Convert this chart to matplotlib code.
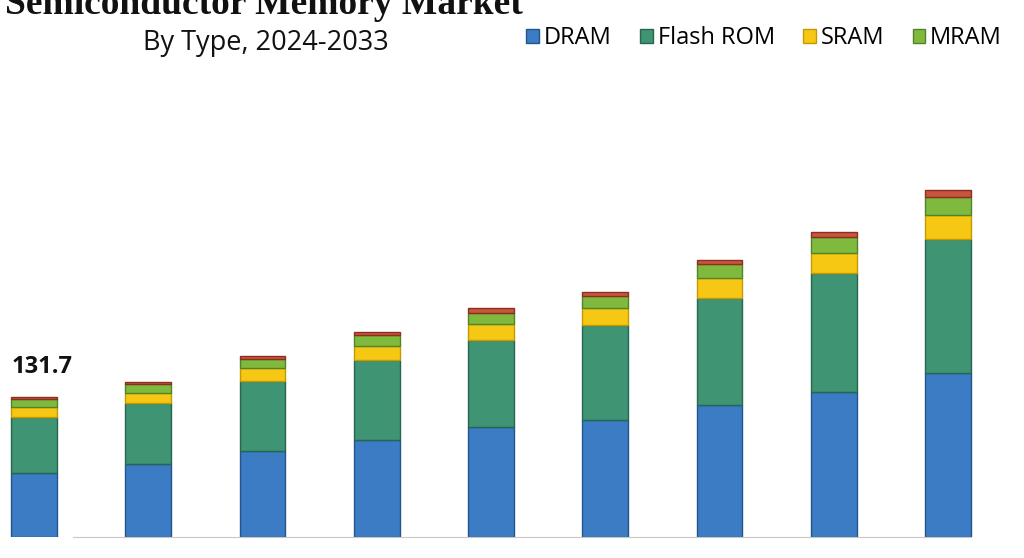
import numpy as np
import matplotlib
matplotlib.use('Agg')
import matplotlib.pyplot as plt
from matplotlib.patches import Patch

# values (USD bn), 2024 onwards
years = ['2024', '2025', '2026', '2027', '2028', '2029', '2030', '2031', '2032']
dram = [60.2, 68.7, 80.9, 91.2, 103.5, 110.1, 124.2, 136.4, 154.3]
flash_rom = [52.7, 57.4, 65.9, 75.3, 81.8, 89.4, 100.7, 111.9, 126.1]
sram = [9.4, 9.4, 12.2, 13.2, 15.1, 16.0, 18.8, 18.8, 22.6]
mram = [7.5, 8.5, 8.5, 10.3, 10.3, 11.3, 13.2, 15.1, 16.9]
others = [1.9, 1.9, 2.8, 2.8, 4.7, 3.8, 3.8, 4.7, 6.6]

series = [('DRAM', dram, '#3b7cc4', '#24548c'),
          ('Flash ROM', flash_rom, '#3e9473', '#276650'),
          ('SRAM', sram, '#f6c713', '#c49a00'),
          ('MRAM', mram, '#7fba3f', '#52832a'),
          ('Others', others, '#c8553d', '#8a3020')]

fig = plt.figure(figsize=(10.24, 5.58), dpi=100)
ax = fig.add_axes([0, 21 / 558, 1, 477 / 558])

x = np.arange(len(years))
width = 0.40
bottom = np.zeros(len(years))
for name, vals, color, edge in series:
    ax.bar(x, vals, width, bottom=bottom, color=color, edgecolor=edge, linewidth=1.0)
    bottom += np.array(vals)

ax.set_xlim(-0.298, 8.665)
ax.set_ylim(0, 448.7)
for s in ['top', 'right', 'left']:
    ax.spines[s].set_visible(False)
ax.spines['bottom'].set_color('#c8c8c8')
ax.spines['bottom'].set_bounds(0.34, 8.2)
ax.set_xticks([])
ax.set_yticks([])

# total label on first bar
ax.annotate(f'{bottom[0]:.1f}', (x[0] - width / 2, bottom[0]), xytext=(0, 13),
            textcoords='offset points', ha='left', va='bottom',
            fontsize=17, fontweight='bold', family='Open Sans', color='#111111')

fig.text(523 / 1024, 1 - 14 / 558, 'Semiconductor Memory Market', ha='right', va='baseline',
         fontsize=27, fontweight='bold', family='Liberation Serif', color='#111111')
fig.text(143 / 1024, 1 - 50 / 558, 'By Type, 2024-2033', ha='left', va='baseline',
         fontsize=19.5, family='Open Sans', color='#111111')

handles = [Patch(facecolor=c, edgecolor=e) for _, _, c, e in series[:4]]
labels = [n for n, _, _, _ in series[:4]]
fig.legend(handles, labels, loc='center left', bbox_to_anchor=(526 / 1024, 1 - 38 / 558),
           ncol=4, frameon=False, prop={'family': 'Open Sans', 'size': 17},
           handlelength=0.55, handleheight=0.55, handletextpad=0.2, columnspacing=1.2,
           borderaxespad=0, borderpad=0)

fig.savefig('out.png', dpi=100)
